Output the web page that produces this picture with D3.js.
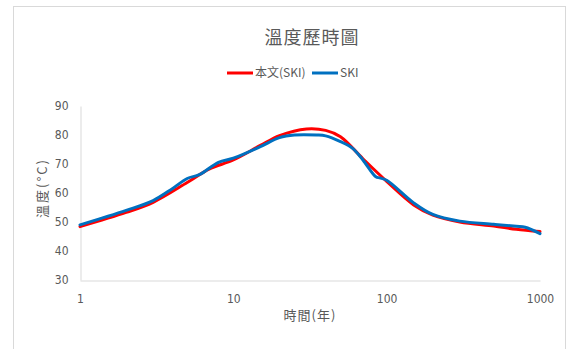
<!DOCTYPE html>
<html>
<head>
<meta charset="utf-8">
<script src="https://cdn.jsdelivr.net/npm/d3@7"></script>
<style>
  html, body { margin: 0; padding: 0; background: #fff; }
  svg { display: block; }
  .tick text { font-family: "Liberation Sans Narrow", "DejaVu Sans Condensed", "Liberation Sans", sans-serif; font-size: 12px; fill: #595959; }
</style>
</head>
<body>
<svg id="chart" width="568" height="349"></svg>
<script>
// Time in years (log axis) and temperature in °C for each series
const redYears = [1, 2, 3, 5, 7, 10, 15, 20, 30, 40, 50, 70, 100, 150, 200, 300, 500, 700, 1000];
const redTemps = [48.4, 53.3, 56.8, 63.6, 68.3, 71.4, 76.4, 79.8, 82.1, 81.6, 79.4, 71.8, 64.0, 55.9, 52.4, 50.0, 48.6, 47.5, 46.7];

const blueYears = [1, 2, 3, 4, 5, 6, 8, 10, 15, 20, 25, 35, 40, 50, 60, 70, 85, 90, 100, 150, 200, 300, 500, 700, 800, 1000];
const blueTemps = [49.0, 54.0, 57.4, 61.5, 65.0, 66.3, 70.6, 72.0, 76.0, 79.1, 80.0, 80.0, 79.7, 77.7, 75.4, 71.4, 65.6, 65.2, 64.4, 56.6, 52.6, 50.3, 49.2, 48.5, 48.2, 46.0];

const seriesNames = ["本文(SKI)", "SKI"];
const seriesColors = ["#FF0000", "#0070C0"];

const xTicks = [1, 10, 100, 1000];
const yTicks = [30, 40, 50, 60, 70, 80, 90];

const chartTitle = "溫度歷時圖";
const xTitle = "時間(年)";
const yTitle = "溫度(°C)";

const series = [
  { name: seriesNames[0], color: seriesColors[0], values: redYears.map((t, i) => ({ t, v: redTemps[i] })) },
  { name: seriesNames[1], color: seriesColors[1], values: blueYears.map((t, i) => ({ t, v: blueTemps[i] })) }
];

const svg = d3.select("#chart");
const cjk = '"Noto Sans CJK TC", "Noto Sans CJK SC", sans-serif';

// Outer chart frame
svg.append("rect")
  .attr("x", 13.5).attr("y", 6.5)
  .attr("width", 552).attr("height", 360)
  .attr("fill", "#fff").attr("stroke", "#d9d9d9").attr("stroke-width", 1);

const x = d3.scaleLog().domain([1, 1000]).range([80, 540]);
const y = d3.scaleLinear().domain([30, 90]).range([280, 106]);

// Axes
const xAxis = svg.append("g")
  .attr("transform", "translate(0,280.5)")
  .call(d3.axisBottom(x).tickValues(xTicks).tickFormat(d3.format("d")).tickSize(0).tickPadding(14));
const yAxis = svg.append("g")
  .attr("transform", "translate(80.5,0)")
  .call(d3.axisLeft(y).tickValues(yTicks).tickSize(0).tickPadding(12));
[xAxis, yAxis].forEach(g => g.select(".domain").attr("stroke", "#d9d9d9"));

// Data lines
const line = d3.line()
  .x(d => x(d.t))
  .y(d => y(d.v))
  .curve(d3.curveCatmullRom.alpha(0.5));

svg.append("g").selectAll("path")
  .data(series)
  .join("path")
  .attr("d", d => line(d.values))
  .attr("fill", "none")
  .attr("stroke", d => d.color)
  .attr("stroke-width", 3)
  .attr("stroke-linejoin", "round")
  .attr("stroke-linecap", "round");

// Title
svg.append("text")
  .attr("x", 312).attr("y", 44)
  .attr("text-anchor", "middle")
  .attr("font-family", cjk)
  .attr("font-size", 18)
  .attr("letter-spacing", 1)
  .attr("fill", "#595959")
  .text(chartTitle);

// Legend
const legendX = [227, 312];
const legend = svg.append("g").selectAll("g")
  .data(series)
  .join("g")
  .attr("transform", (d, i) => `translate(${legendX[i]},73)`);
legend.append("line")
  .attr("x1", 0).attr("x2", 26)
  .attr("stroke", d => d.color)
  .attr("stroke-width", 3);
legend.append("text")
  .attr("x", 28).attr("dy", "0.35em")
  .attr("font-family", cjk)
  .attr("font-size", 12)
  .attr("fill", "#595959")
  .text(d => d.name);

// Axis titles
svg.append("text")
  .attr("x", 310).attr("y", 320)
  .attr("text-anchor", "middle")
  .attr("font-family", cjk)
  .attr("font-size", 13)
  .attr("letter-spacing", 1)
  .attr("fill", "#595959")
  .text(xTitle);

svg.append("text")
  .attr("transform", "translate(47,188) rotate(-90)")
  .attr("text-anchor", "middle")
  .attr("font-family", cjk)
  .attr("font-size", 13)
  .attr("letter-spacing", 2)
  .attr("fill", "#595959")
  .text(yTitle);
</script>
</body>
</html>
